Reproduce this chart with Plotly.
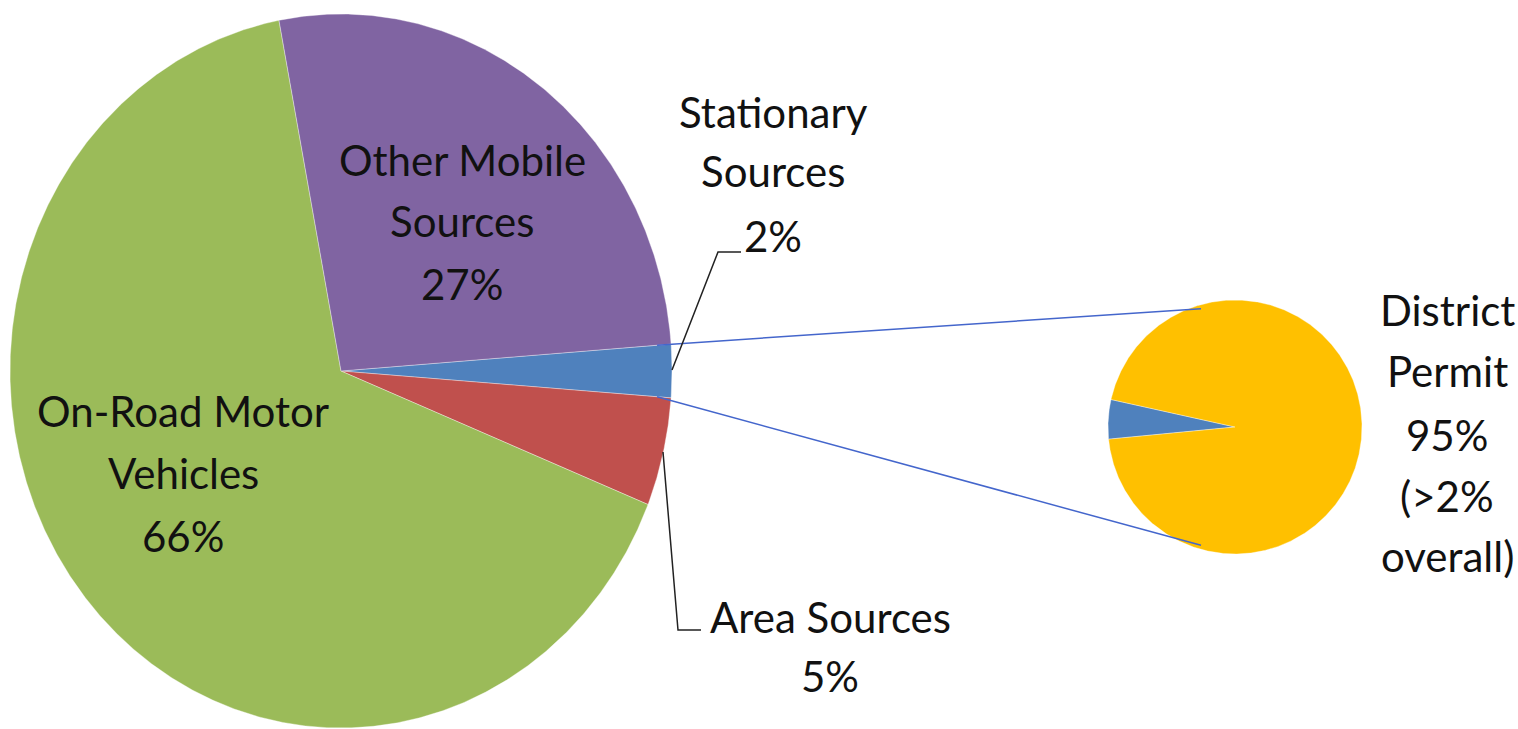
import numpy as np
import plotly.graph_objects as go

# ---- data ----
main_labels = ["Stationary Sources", "Area Sources", "On-Road Motor Vehicles", "Other Mobile Sources"]
main_values = [2.4, 4.9, 65.9, 26.8]
main_colors = ["#4F81BD", "#C0504D", "#9BBB59", "#8064A2"]

sub_labels = ["Other Stationary", "District Permit"]
sub_values = [5, 95]
sub_colors = ["#4F81BD", "#FFC000"]

# label text lines (as printed on the chart)
main_text_lines = {
    "Other Mobile Sources": ["Other Mobile", "Sources"],
    "On-Road Motor Vehicles": ["On-Road Motor", "Vehicles"],
    "Stationary Sources": ["Stationary", "Sources"],
    "Area Sources": ["Area Sources"],
}
sub_text_lines = {"District Permit": ["District", "Permit"]}
sub_note = ["(>2%", "overall)"]

# ---- geometry (layout) ----
W, H = 1518, 729
MAIN_C = (341, 371)
MAIN_R = (331, 357)
SUB_C = (1235, 427)
SUB_R = (127, 127)

FONT = "Lato, Calibri, Carlito, sans-serif"
FS = 42

fig = go.Figure()


def wedge(c, r, a0, a1):
    # angles in degrees, math convention, screen y down
    n = max(int(abs(a1 - a0) * 3), 4)
    t = np.radians(np.linspace(a0, a1, n))
    xs = np.concatenate([[c[0]], c[0] + r[0] * np.cos(t), [c[0]]])
    ys = np.concatenate([[c[1]], c[1] - r[1] * np.sin(t), [c[1]]])
    return xs, ys


def add_pie(c, r, values, colors, start_center_deg):
    tot = float(sum(values))
    spans = [v / tot * 360.0 for v in values]
    # first slice centred at start_center_deg, proceed clockwise
    a = start_center_deg + spans[0] / 2.0
    bounds = []
    for s, col in zip(spans, colors):
        xs, ys = wedge(c, r, a, a - s)
        fig.add_trace(go.Scatter(x=xs, y=ys, mode="lines", fill="toself",
                                 fillcolor=col, line=dict(color="rgba(255,255,255,0.6)", width=0.6),
                                 hoverinfo="skip", showlegend=False))
        bounds.append((a, a - s))
        a -= s
    return bounds


main_bounds = add_pie(MAIN_C, MAIN_R, main_values, main_colors, 0.0)
sub_bounds = add_pie(SUB_C, SUB_R, sub_values, sub_colors, 176.5)

# connector lines between the stationary slice and the secondary pie
b0 = main_bounds[0]
for ang, ty in ((b0[0], -1), (b0[1], 1)):
    t = np.radians(ang)
    x0 = MAIN_C[0] + (MAIN_R[0] - 14) * np.cos(t)
    y0 = MAIN_C[1] - (MAIN_R[1] - 14) * np.sin(t)
    x1 = SUB_C[0] - 34
    y1 = SUB_C[1] + ty * (SUB_R[1] - 5) * 0.97
    fig.add_trace(go.Scatter(x=[x0, x1], y=[y0, y1], mode="lines",
                             line=dict(color="#4466CC", width=1.5),
                             hoverinfo="skip", showlegend=False))

# leader lines
fig.add_trace(go.Scatter(x=[672, 718, 741], y=[370, 252, 252], mode="lines",
                         line=dict(color="#222222", width=1.5), hoverinfo="skip", showlegend=False))
fig.add_trace(go.Scatter(x=[663, 678, 701], y=[452, 630, 630], mode="lines",
                         line=dict(color="#222222", width=1.5), hoverinfo="skip", showlegend=False))


def pct(v, tot):
    return f"{round(v / tot * 100):.0f}%"


tot_main = sum(main_values)
label_pos = {
    "Other Mobile Sources": (462, [160, 221, 284]),
    "On-Road Motor Vehicles": (183, [411, 473, 536]),
    "Stationary Sources": (773, [112, 171, 236]),
    "Area Sources": (830, [617, 676]),
}
annotations = []
for name, v in zip(main_labels, main_values):
    lines = main_text_lines[name] + [pct(v, tot_main)]
    x, ys = label_pos[name]
    for line, y in zip(lines, ys):
        annotations.append(dict(x=x, y=y, xref="x", yref="y", text=line, showarrow=False,
                                xanchor="center", yanchor="middle",
                                font=dict(family=FONT, size=FS, color="#111111")))

tot_sub = sum(sub_values)
sub_lines = sub_text_lines["District Permit"] + [pct(sub_values[1], tot_sub)] + sub_note
for line, y in zip(sub_lines, [310, 371, 435, 496, 556]):
    annotations.append(dict(x=1447, y=y, xref="x", yref="y", text=line, showarrow=False,
                            xanchor="center", yanchor="middle",
                            font=dict(family=FONT, size=FS, color="#111111")))

fig.update_layout(
    width=W, height=H,
    margin=dict(l=0, r=0, t=0, b=0),
    paper_bgcolor="white", plot_bgcolor="white",
    xaxis=dict(range=[0, W], visible=False, fixedrange=True),
    yaxis=dict(range=[H, 0], visible=False, fixedrange=True),
    annotations=annotations,
    showlegend=False,
)

fig.write_html("out.html", config={"displayModeBar": False})
